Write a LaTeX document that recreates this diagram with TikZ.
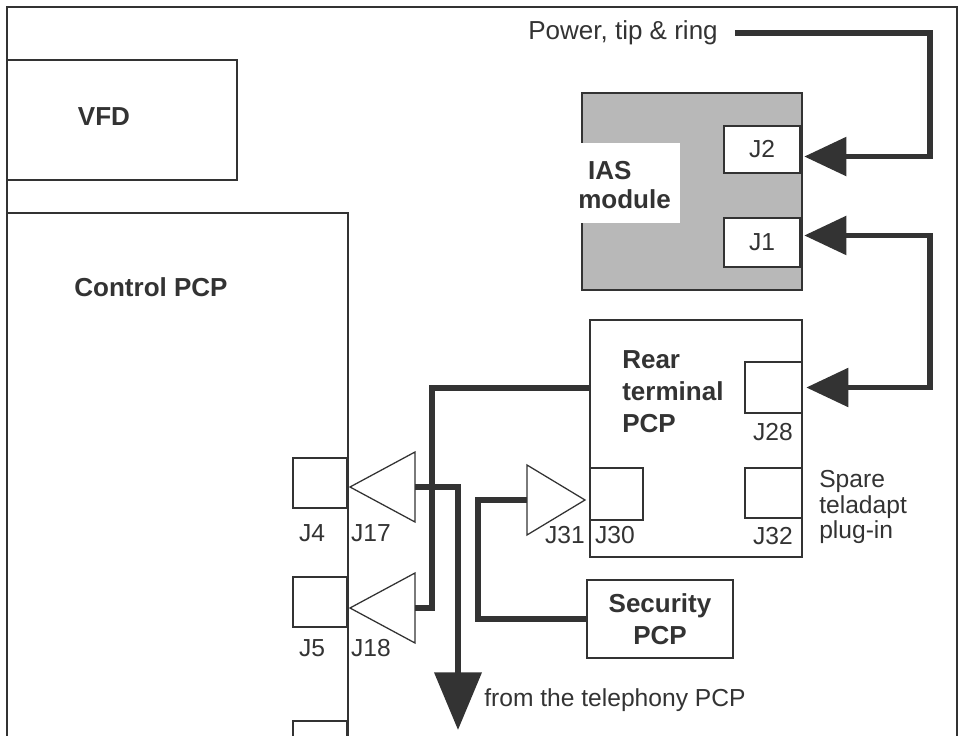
\documentclass[tikz,border=0pt]{standalone}
\usepackage{fontspec}
\setmainfont{Liberation Sans}
\usetikzlibrary{arrows.meta,positioning,shapes.geometric}

\begin{document}
\begin{tikzpicture}[
  x=0.025cm, y=-0.025cm,
  ink/.style={draw=black!80, line width=1.3pt},
  board/.style={ink, fill=white, inner sep=0pt, outer sep=0pt},
  jack/.style={board, minimum width=1.35cm, minimum height=1.25cm},
  amp/.style={isosceles triangle, isosceles triangle stretches,
              draw=black!80, line width=0.9pt, fill=white,
              inner sep=0pt, outer sep=0pt,
              minimum width=1.75cm, minimum height=1.625cm},
  title/.style={font=\fontsize{18.5}{22.7}\selectfont\bfseries,
                text=black!80, align=left, inner sep=0pt},
  note/.style={font=\fontsize{17.5}{18.2}\selectfont,
               text=black!80, align=left, inner sep=0pt},
  wire/.style={line width=4.2pt, draw=black!80},
  feed/.style={wire, -{Triangle[length=30pt,width=27pt]}, shorten >=3pt},
  both/.style={wire, {Triangle[length=30pt,width=27pt]}-{Triangle[length=30pt,width=27pt]},
               shorten <=3pt, shorten >=3pt}
]
\useasboundingbox (0,0) rectangle (962,736);
\clip (0,0) rectangle (962,736);
\draw[ink, line width=1.6pt] (7,7) rectangle (957,780);

\node[board, minimum width=5.75cm, minimum height=3cm] (vfd) at (122,120) {};
\node[title] (vfdname) at (104,117) {VFD};

\node[board, minimum width=8.525cm, minimum height=15cm] (ctrl) at (177.5,513) {};
\node[title] (ctrlname) at (151,287) {Control PCP};

\node[jack] (j4) at (320,483) {};
\node[jack] (j5) at (320,602) {};
\node[jack] (jlow) at (320,746) {};
\node[note] (j4name) at (312,533) {J4};
\node[note] (j5name) at (312,648) {J5};

\node[amp, shape border rotate=180, anchor=apex] (j17) at (350,487) {};
\node[amp, shape border rotate=180, anchor=apex] (j18) at (350,608) {};
\node[note] (j17name) at (371,533) {J17};
\node[note] (j18name) at (371,648) {J18};

\node[board, minimum width=5.3cm, minimum height=5.925cm] (rear) at (696,438.5) {};
\node[title, anchor=west] (rearname) at (622,392) {Rear\\terminal\\PCP};
\node[jack, minimum width=1.325cm, minimum height=1.3cm] (j30) at (616.5,494) {};
\node[jack, minimum width=1.425cm, minimum height=1.275cm] (j28) at (773.5,387.5) {};
\node[jack, minimum width=1.425cm, minimum height=1.25cm] (j32) at (773.5,493) {};
\node[note] (j30name) at (615,535) {J30};
\node[note] (j28name) at (773,432) {J28};
\node[note] (j32name) at (773,536) {J32};
\node[note, anchor=west] (spare) at (819,507) {Spare\\teladapt\\plug-in};

\node[amp, minimum height=1.45cm, anchor=apex] (j31) at (585,500) {};
\node[note] (j31name) at (565,535) {J31};

\node[board, title, align=center, minimum width=3.65cm, minimum height=1.95cm]
  (sec) at (660,619) {Security\\PCP};

\node[board, fill=black!28, minimum width=5.5cm, minimum height=4.925cm] (ias) at (692,191.5) {};
\fill[white] (579,143) rectangle (680,223);
\node[title, anchor=west, font=\fontsize{18.5}{20}\selectfont\bfseries]
  (iasname) at (578,185) {\hspace*{7pt}IAS\\module};
\node[jack, note, minimum width=1.9cm, minimum height=1.175cm] (j2) at (762,149.5) {J2};
\node[jack, note, minimum width=1.9cm, minimum height=1.225cm] (j1) at (762,242.5) {J1};

\node[note, anchor=east, font=\fontsize{18.5}{20}\selectfont] (power) at (718,33) {Power, tip \& ring};

\draw[feed] ([xshift=12pt]power.east) -- ++(195,0) |- ([yshift=-5pt]j2.east);
\draw[both] ([yshift=5pt]j1.east) -- ++(130,0) |- (j28.east);
\draw[wire] (j18.lower side) -- ++(17,0) |- (rear.west |- 0,388);
\coordinate (tel) at (458,730);
\draw[wire, -{Triangle[length=41pt,width=33pt]}] (j17.lower side) -| (tel);
\draw[wire] (j31.lower side) -- ++(-49,0) |- (sec.west);
\node[note, anchor=west] (telnote) at (484,700) {from the telephony PCP};
\end{tikzpicture}
\end{document}
